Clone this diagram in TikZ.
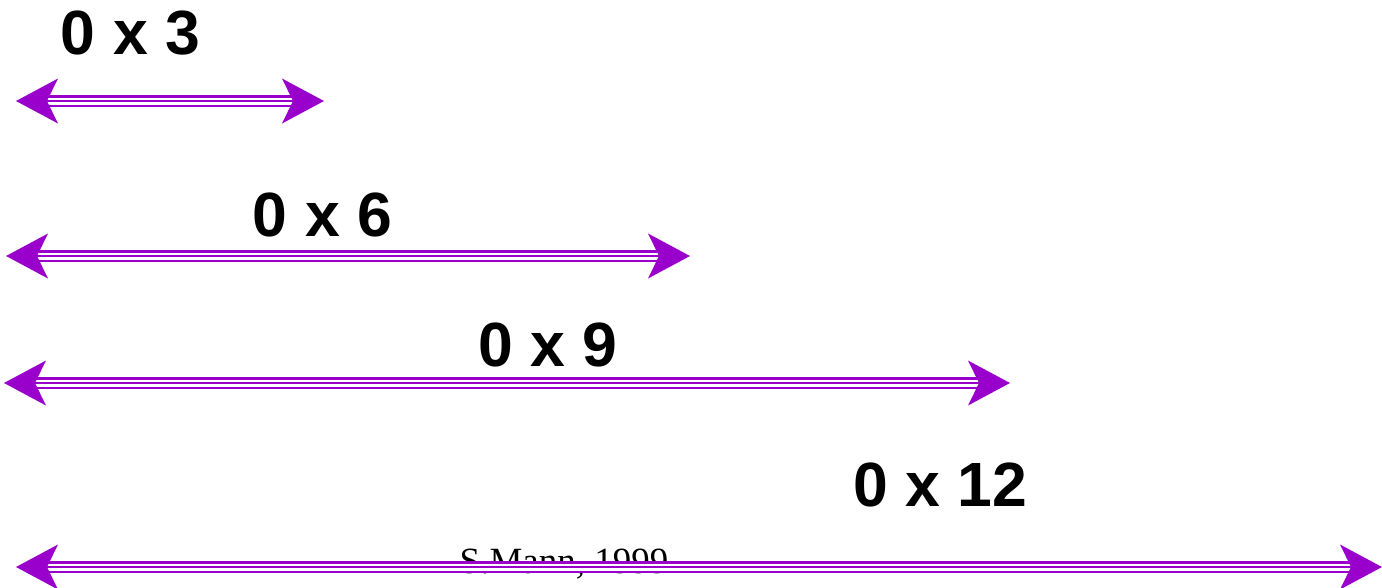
\documentclass[tikz,border=0pt]{standalone}
\usepackage{fontspec}
\setmainfont{Liberation Serif}
\setsansfont{Liberation Sans}
\usetikzlibrary{arrows.meta}
\definecolor{arrowpurple}{RGB}{153,0,204}
\tikzset{
  head/.tip={Stealth[length=42pt,width=45pt,inset=11pt,line width=0pt]},
  % triple rail between the two heads
  rail/.style={draw=arrowpurple, line width=12pt, shorten <=30pt, shorten >=30pt,
    postaction={draw=white, line width=7pt},
    postaction={draw=arrowpurple, line width=2.5pt}},
  % the two arrowheads on top of the rail
  heads/.style={draw=arrowpurple, line width=0.2pt, {head}-{head}},
  size/.style={font=\sffamily\bfseries\fontsize{62.5}{62.5}\selectfont, anchor=base, inner sep=0pt},
  credit/.style={font=\fontsize{37}{37}\selectfont, anchor=base, inner sep=0pt}
}
\begin{document}
\begin{tikzpicture}[x=1pt, y=-1pt]
  \useasboundingbox (0,0) rectangle (1382,587);

  % end points of the four spans
  \coordinate (a1) at (16,101);   \coordinate (b1) at (324,101);
  \coordinate (a2) at (6,256);    \coordinate (b2) at (690,256);
  \coordinate (a3) at (4,383);    \coordinate (b3) at (1010,383);
  \coordinate (a4) at (16,567);   \coordinate (b4) at (1382,567);

  % labels
  \node[size] (l1) at (130.5,54) {0 x 3};
  \node[size] (l2) at (322.5,236) {0 x 6};
  \node[size] (l3) at (547.5,366) {0 x 9};
  \node[size] (l4) at (940,506) {0 x 12};
  \node[credit] (sig) at (564,573) {S.Mann, 1999};

  % double-headed spans
  \foreach \i in {1,2,3,4} {
    \draw[rail] (a\i) -- (b\i);
    \path[heads] (a\i) -- (b\i);
  }
\end{tikzpicture}
\end{document}
